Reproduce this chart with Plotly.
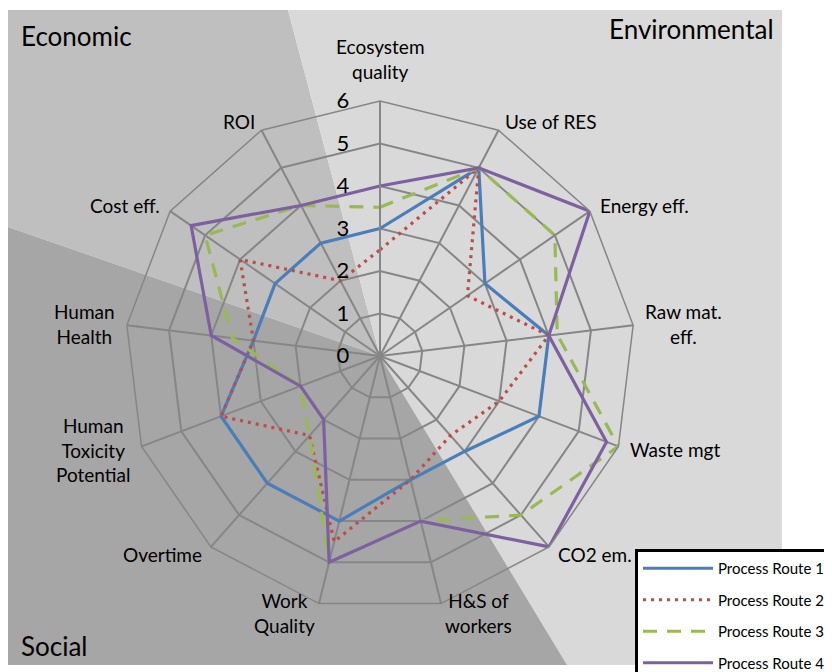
import math
import plotly.graph_objects as go

# ---------------- data ----------------
categories = ["Ecosystem<br>quality", "Use of RES", "Energy eff.", "Raw mat.<br>eff.",
              "Waste mgt", "CO2 em.", "H&S of<br>workers", "Work<br>Quality", "Overtime",
              "Human<br>Toxicity<br>Potential", "Human<br>Health", "Cost eff.", "ROI"]
route1 = [3, 5, 3, 4, 4, 3, 3, 4, 4, 4, 3, 3, 3]
route2 = [2.5, 5, 2.5, 4, 3, 2.5, 3, 4.5, 2.5, 4, 3, 4, 2]
route3 = [3.5, 5, 5, 4.2, 6, 5, 4, 5, 2.5, 2, 3.5, 5, 4]
route4 = [4, 5, 6, 4, 5.7, 6, 4, 5, 2, 2, 4, 5.4, 4]
series_names = ["Process Route 1", "Process Route 2", "Process Route 3", "Process Route 4"]
radial_ticks = [0, 1, 2, 3, 4, 5, 6]
region_labels = ["Economic", "Environmental", "Social"]

# ---------------- layout geometry (page pixels; the page body has an 8px margin) ----------------
W, H = 832, 672
OFF = 8
cx, cy, R = 380, 356, 255
RMAX = 6


def px(x, y):
    return (x - OFF) / W, 1 - (y - OFF) / H


def path(points):
    s = ""
    for i, (x, y) in enumerate(points):
        X, Y = px(x, y)
        s += ("M" if i == 0 else "L") + f"{X:.5f},{Y:.5f} "
    return s + "Z"


colors = ["#4A7EBB", "#BE4B48", "#98B954", "#7D60A0"]
dashes = ["solid", "3px,5px", "14px,10px", "solid"]
series = [route1, route2, route3, route4]

fig = go.Figure()
for i, (name, vals) in enumerate(zip(series_names, series)):
    fig.add_trace(go.Scatterpolar(
        r=vals + vals[:1],
        theta=categories + categories[:1],
        mode="lines",
        name=name,
        legendgroup=f"g{i}",
        line=dict(color=colors[i], width=3.2, dash=dashes[i]),
    ))

grid = "#868686"
box_l, box_t, box_r, box_b = 8, 10, 782, 665
shapes = [
    dict(type="path", xref="paper", yref="paper", layer="below", line=dict(width=0),
         fillcolor="#BFBFBF", path=path([(box_l, box_t), (288, box_t), (cx, cy), (box_l, 227)])),
    dict(type="path", xref="paper", yref="paper", layer="below", line=dict(width=0),
         fillcolor="#D9D9D9", path=path([(288, box_t), (box_r, box_t), (box_r, box_b), (567, box_b), (cx, cy)])),
    dict(type="path", xref="paper", yref="paper", layer="below", line=dict(width=0),
         fillcolor="#A6A6A6", path=path([(box_l, 227), (cx, cy), (567, box_b), (box_l, box_b)])),
]

annotations = []
for text, (x, y, xa) in zip(region_labels, [(19, 36, "left"), (776, 29, "right"), (19, 646, "left")]):
    X, Y = px(x, y)
    annotations.append(dict(text=text, x=X, y=Y, xref="paper", yref="paper", showarrow=False,
                            xanchor=xa, yanchor="middle",
                            font=dict(family="Lato", size=26, color="black")))

# category labels placed just outside each spoke end (Excel-like placement)
n = len(categories)
for k, lab in enumerate(categories):
    th = math.radians(k * 360 / n)
    s, c = math.sin(th), math.cos(th)
    if c > 0.95:
        d, ya = 16, "bottom"
    else:
        d, ya = 10, "middle"
    xa = "left" if s > 0.1 else ("right" if s < -0.1 else "center")
    vx = cx + (R + d) * s
    vy = cy - (R + d) * c
    X, Y = px(vx, vy)
    annotations.append(dict(text=lab, x=X, y=Y, xref="paper", yref="paper", showarrow=False,
                            xanchor=xa, yanchor=ya, align="center",
                            font=dict(family="Lato", size=19, color="black")))

fig.update_layout(
    width=W, height=H,
    margin=dict(l=0, r=0, t=0, b=0, autoexpand=False),
    paper_bgcolor="white",
    font=dict(family="Lato", color="black"),
    shapes=shapes,
    annotations=annotations,
    polar=dict(
        domain=dict(x=[(cx - OFF - R) / W, (cx - OFF + R) / W],
                    y=[1 - (cy - OFF + R) / H, 1 - (cy - OFF - R) / H]),
        bgcolor="rgba(0,0,0,0)",
        gridshape="linear",
        angularaxis=dict(
            type="category", direction="clockwise", rotation=90,
            showgrid=True, gridcolor=grid, gridwidth=1.5,
            showline=True, linecolor=grid, linewidth=1.5,
            ticks="", showticklabels=False,
        ),
        radialaxis=dict(
            range=[0, RMAX], tickvals=radial_ticks, angle=90, side="counterclockwise",
            showgrid=True, gridcolor=grid, gridwidth=1.5,
            showline=True, linecolor=grid, linewidth=2,
            ticks="outside", ticklen=22, tickcolor="rgba(0,0,0,0)", tickangle=90,
            tickfont=dict(family="Lato", size=22, color="black"),
        ),
    ),
    legend=dict(
        x=(635 - OFF) / W, y=1 - (549 - OFF) / H, xanchor="left", yanchor="top",
        bgcolor="white", bordercolor="black", borderwidth=3,
        font=dict(family="Lato", size=15, color="black"),
        itemwidth=70, tracegroupgap=9,
    ),
)

fig.write_html("out.html")
